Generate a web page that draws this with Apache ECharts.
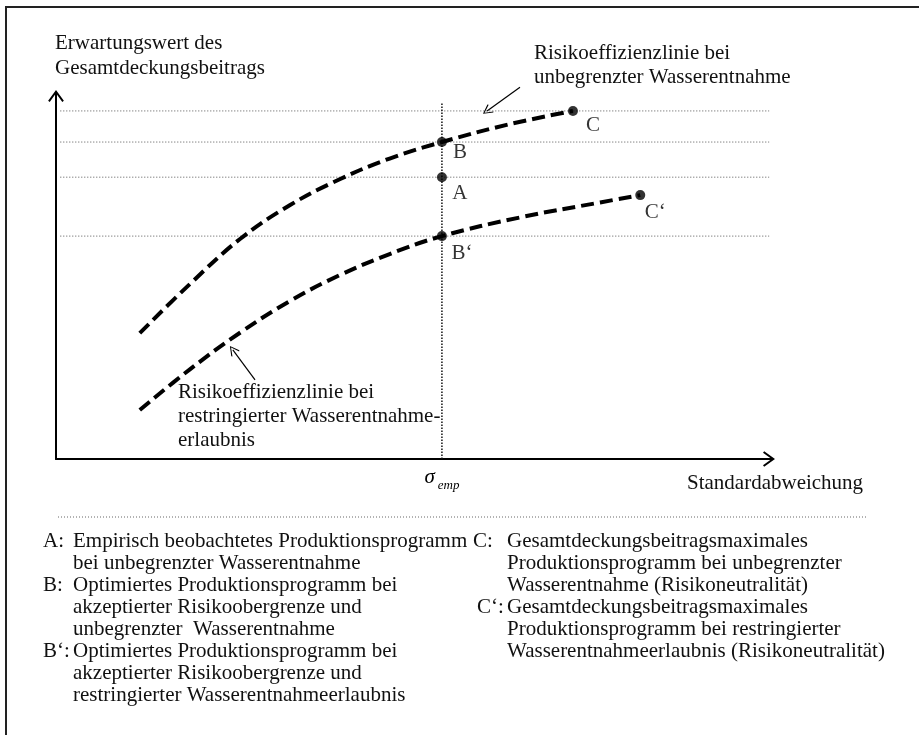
<!DOCTYPE html>
<html>
<head>
<meta charset="utf-8">
<script src="https://cdn.jsdelivr.net/npm/echarts@6/dist/echarts.min.js"></script>
<style>
  html, body { margin: 0; padding: 0; background: #fff; }
  #echart-container { width: 919px; height: 735px; }
</style>
</head>
<body>
<div id="echart-container"></div>
<script>
// values, arbitrary units (0..100 on both axes)
const upperCurve = [[11.7, 34.4], [18.7, 47.8], [25.7, 60.1], [32.7, 69.4], [39.7, 76.5], [46.6, 82.1], [53.9, 86.6], [63.4, 91.5], [72.2, 95.1]]
const lowerCurve = [[11.7, 13.4], [18.7, 24.5], [25.7, 34.5], [32.7, 43.2], [39.7, 50.3], [46.6, 56.0], [53.9, 60.9], [64.8, 66.0], [76.0, 70.1], [81.6, 72.1]]
const sigmaEmp = 53.9
const pointNames = ['B', 'A', 'B‘', 'C', 'C‘']
const pointValues = [[53.9, 86.6], [53.9, 77.0], [53.9, 60.9], [72.2, 95.1], [81.6, 72.1]]
const levelValues = [95.1, 86.6, 77.0, 60.9]
const levelRange = [0.6, 99.6]
const sigmaTop = 97.5
const arrowUpper = [[64.8, 101.6], [60.2, 95.1]]
const arrowLower = [[27.8, 21.6], [24.7, 29.8]]

// texts
const yTitle = ['Erwartungswert des', 'Gesamtdeckungsbeitrags']
const xTitle = 'Standardabweichung'
const upperNote = ['Risikoeffizienzlinie bei', 'unbegrenzter Wasserentnahme']
const lowerNote = ['Risikoeffizienzlinie bei', 'restringierter Wasserentnahme-', 'erlaubnis']
const legendLeft = [
  ['A:', 'Empirisch beobachtetes Produktionsprogramm', 'bei unbegrenzter Wasserentnahme'],
  ['B:', 'Optimiertes Produktionsprogramm bei', 'akzeptierter Risikoobergrenze und', 'unbegrenzter  Wasserentnahme'],
  ['B‘:', 'Optimiertes Produktionsprogramm bei', 'akzeptierter Risikoobergrenze und', 'restringierter Wasserentnahmeerlaubnis']
]
const legendRight = [
  ['C:', 'Gesamtdeckungsbeitragsmaximales', 'Produktionsprogramm bei unbegrenzter', 'Wasserentnahme (Risikoneutralität)'],
  ['C‘:', 'Gesamtdeckungsbeitragsmaximales', 'Produktionsprogramm bei restringierter', 'Wasserentnahmeerlaubnis (Risikoneutralität)']
]

const FONT = '"Liberation Serif", "Times New Roman", serif'
const axisArrow = 'path://M8,0 L16,11 L14.4,12.2 L8,3.4 L1.6,12.2 L0,11 Z'
const noteArrow = 'path://M6,0 L12,9 L11,9.9 L6,2 L1,9.9 L0,9 Z'
const labelOffsets = {'B': [18, 10], 'A': [18, 16], 'B‘': [20, 17], 'C': [20, 15], 'C‘': [15, 17]}

function textBlock (lines, x, y, lineHeight) {
  return {
    type: 'text',
    x: x,
    y: y,
    style: {
      text: lines.join('\n'),
      font: '21px ' + FONT,
      fill: '#111',
      lineHeight: lineHeight,
      verticalAlign: 'top'
    }
  }
}

function legendColumn (entries, keyXs, textX, top) {
  let out = []
  let row = 0
  entries.forEach(function (entry, i) {
    out.push(textBlock([entry[0]], keyXs[i], top + row * 22, 22))
    out.push(textBlock(entry.slice(1), textX, top + row * 22, 22))
    row += entry.length - 1
  })
  return out
}

const myChart = echarts.init(document.getElementById('echart-container'))

const levelSeries = levelValues.map(function (v) {
  return {
    type: 'line',
    data: [[levelRange[0], v], [levelRange[1], v]],
    symbol: 'none',
    silent: true,
    z: 1,
    lineStyle: { color: '#555', width: 1, type: [1, 2] }
  }
})

const option = {
  animation: false,
  backgroundColor: '#fff',
  grid: { left: 56, right: 147, top: 93, bottom: 276, outerBoundsMode: 'none' },
  xAxis: {
    type: 'value',
    min: 0,
    max: 100,
    splitLine: { show: false },
    axisTick: { show: false },
    axisLine: {
      lineStyle: { color: '#000', width: 2 },
      symbol: ['none', axisArrow],
      symbolSize: [16, 12],
      symbolOffset: [0, -3]
    },
    axisLabel: {
      show: true,
      customValues: [sigmaEmp],
      margin: 3,
      formatter: function () { return '{s|σ}{e|emp}' },
      rich: {
        s: { fontFamily: FONT, fontStyle: 'italic', fontSize: 21, lineHeight: 30, color: '#000' },
        e: { fontFamily: FONT, fontStyle: 'italic', fontSize: 13, lineHeight: 10, verticalAlign: 'bottom', color: '#000', padding: [0, 0, 0, 3] }
      }
    }
  },
  yAxis: {
    type: 'value',
    min: 0,
    max: 100,
    splitLine: { show: false },
    axisTick: { show: false },
    axisLabel: { show: false },
    axisLine: {
      lineStyle: { color: '#000', width: 2 },
      symbol: ['none', axisArrow],
      symbolSize: [16, 12],
      symbolOffset: [0, -3]
    }
  },
  series: levelSeries.concat([
    {
      type: 'line',
      data: [[sigmaEmp, 0], [sigmaEmp, sigmaTop]],
      symbol: 'none',
      silent: true,
      z: 2,
      lineStyle: { color: '#111', width: 1.5, type: [1.5, 1.5] }
    },
    {
      type: 'line',
      data: upperCurve,
      smooth: 0.4,
      symbol: 'none',
      z: 3,
      lineStyle: { color: '#000', width: 4, type: [13, 6] }
    },
    {
      type: 'line',
      data: lowerCurve,
      smooth: 0.4,
      symbol: 'none',
      z: 3,
      lineStyle: { color: '#000', width: 4, type: [13, 6] }
    },
    {
      type: 'lines',
      coordinateSystem: 'cartesian2d',
      clip: false,
      silent: true,
      z: 4,
      symbol: ['none', noteArrow],
      symbolSize: [12, 10],
      lineStyle: { color: '#000', width: 1.2, opacity: 1, curveness: 0 },
      data: [{ coords: arrowUpper }, { coords: arrowLower }]
    },
    {
      type: 'scatter',
      z: 5,
      symbolSize: 10,
      itemStyle: { color: '#000' },
      data: pointNames.map(function (n, i) {
        return {
          name: n,
          value: pointValues[i],
          label: { offset: labelOffsets[n] }
        }
      }),
      label: {
        show: true,
        position: 'inside',
        formatter: '{b}',
        fontFamily: FONT,
        fontSize: 21,
        color: '#000'
      }
    }
  ]),
  graphic: [
    {
      type: 'rect',
      z: -1,
      shape: { x: 6, y: 7, width: 1000, height: 1000 },
      style: { fill: 'none', stroke: '#222', lineWidth: 2 }
    },
    {
      type: 'line',
      shape: { x1: 58, y1: 517, x2: 868, y2: 517 },
      style: { stroke: '#666', lineWidth: 1, lineDash: [1, 2] }
    },
    textBlock(yTitle, 55, 31, 25),
    textBlock([xTitle], 687, 471, 24),
    textBlock(upperNote, 534, 41, 24),
    textBlock(lowerNote, 178, 380, 24)
  ].concat(legendColumn(legendLeft, [43, 43, 43], 73, 530))
    .concat(legendColumn(legendRight, [473, 477], 507, 530))
}

myChart.setOption(option)
</script>
</body>
</html>
